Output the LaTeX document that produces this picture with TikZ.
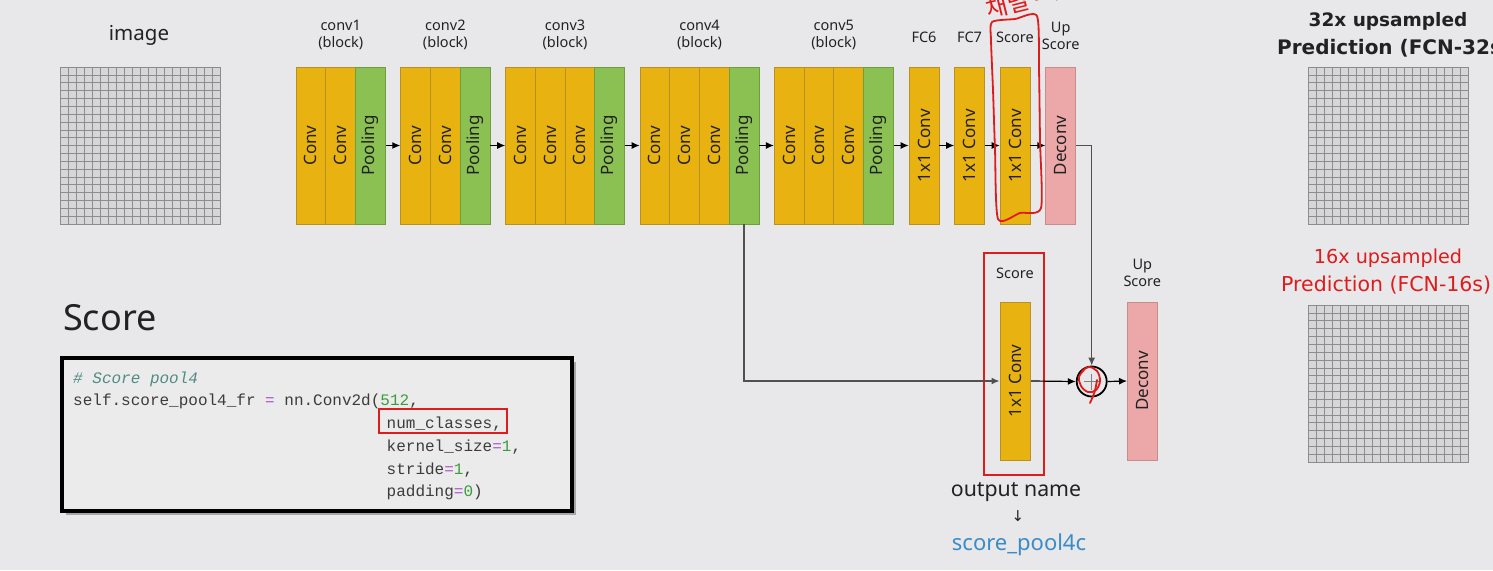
\documentclass[tikz,border=0pt]{standalone}
\usepackage{fontspec}
\setmainfont{Noto Sans}
\setmonofont{Liberation Mono}
\newfontfamily\krfont{Noto Sans CJK KR}
\newfontfamily\djv{DejaVu Sans}
\usetikzlibrary{arrows.meta,calc}
\definecolor{bg}{RGB}{232,231,233}
\definecolor{convfill}{RGB}{232,178,16}
\definecolor{convedge}{RGB}{185,145,35}
\definecolor{poolfill}{RGB}{139,193,83}
\definecolor{pooledge}{RGB}{110,158,62}
\definecolor{decfill}{RGB}{236,168,168}
\definecolor{decedge}{RGB}{200,140,140}
\definecolor{gridfill}{RGB}{214,214,216}
\definecolor{gridline}{RGB}{140,140,142}
\definecolor{annred}{RGB}{222,28,28}
\definecolor{txt}{RGB}{34,34,34}
\definecolor{codebg}{RGB}{236,235,236}
\definecolor{codetxt}{RGB}{60,60,60}
\definecolor{cmt}{RGB}{80,140,130}
\definecolor{eqc}{RGB}{170,85,200}
\definecolor{numc}{RGB}{60,155,60}
\definecolor{bluec}{RGB}{58,140,200}
\definecolor{conn}{RGB}{80,80,80}
\newcommand\fcngrid[3]{%
  \node[gridbox, anchor=north west] (#1) at (#2,#3) {};
  \foreach \i in {1,...,19}{%
    \draw[gridln] ({#2+8*\i},#3) -- ({#2+8*\i},{#3+157});
    \draw[gridln] (#2,{#3+7.85*\i}) -- ({#2+160},{#3+7.85*\i});
  }%
}
\begin{document}
\begin{tikzpicture}[x=1pt,y=-1pt,
  cv/.style={draw=convedge, line width=0.8pt, fill=convfill, minimum width=29.8, minimum height=157, inner sep=0, font=\fontsize{17}{17}\selectfont, text=txt},
  pl/.style={cv, draw=pooledge, fill=poolfill},
  dc/.style={cv, draw=decedge, fill=decfill},
  lbl/.style={font=\fontsize{14.5}{17}\selectfont, align=center, text=txt},
  arr/.style={line width=1.2pt, black, -{Latex[length=8pt,width=7pt]}},
  garr/.style={line width=1.4pt, conn, -{Latex[length=8pt,width=7pt]}},
  gridbox/.style={draw=gridline, fill=gridfill, minimum width=160, minimum height=157, inner sep=0, line width=0.7pt},
  gridln/.style={gridline, line width=0.6pt},
  code/.style={font=\ttfamily\fontsize{16}{18}\selectfont, anchor=base west, inner sep=0, text=codetxt},
  redbox/.style={draw=annred, line width=2pt, inner sep=0},
  hand/.style={annred, line width=1.8pt, line cap=round, line join=round}
]
\useasboundingbox[fill=bg] (0,0) rectangle (1493,570);

% input image
\node[font=\fontsize{20.5}{24}\selectfont, text=txt] (limg) at (139,35) {image};
\fcngrid{img}{60}{67}

% top labels
\node[lbl] (l1) at (340.7,35) {conv1\\(block)};
\node[lbl] (l2) at (445.4,35) {conv2\\(block)};
\node[lbl] (l3) at (565,35) {conv3\\(block)};
\node[lbl] (l4) at (699.5,35) {conv4\\(block)};
\node[lbl] (l5) at (833.8,35) {conv5\\(block)};
\node[lbl] (l6) at (924,37) {FC6};
\node[lbl] (l7) at (969.5,37) {FC7};
\node[lbl] (l8) at (1015,37) {Score};
\node[lbl] (l9) at (1060.7,35.5) {Up\\Score};

% top boxes
\node[cv] (a1) at (310.9,145.5) {\rotatebox{90}{Conv}};
\node[cv] (a2) at (340.7,145.5) {\rotatebox{90}{Conv}};
\node[pl] (p1) at (370.5,145.5) {\rotatebox{90}{Pooling}};
\node[cv] (b1) at (415.6,145.5) {\rotatebox{90}{Conv}};
\node[cv] (b2) at (445.4,145.5) {\rotatebox{90}{Conv}};
\node[pl] (p2) at (475.1,145.5) {\rotatebox{90}{Pooling}};
\node[cv] (c1) at (520.5,145.5) {\rotatebox{90}{Conv}};
\node[cv] (c2) at (550.2,145.5) {\rotatebox{90}{Conv}};
\node[cv] (c3) at (579.8,145.5) {\rotatebox{90}{Conv}};
\node[pl] (p3) at (609.5,145.5) {\rotatebox{90}{Pooling}};
\node[cv] (d1) at (654.9,145.5) {\rotatebox{90}{Conv}};
\node[cv] (d2) at (684.6,145.5) {\rotatebox{90}{Conv}};
\node[cv] (d3) at (714.4,145.5) {\rotatebox{90}{Conv}};
\node[pl] (p4) at (744.1,145.5) {\rotatebox{90}{Pooling}};
\node[cv] (e1) at (789.2,145.5) {\rotatebox{90}{Conv}};
\node[cv] (e2) at (818.9,145.5) {\rotatebox{90}{Conv}};
\node[cv] (e3) at (848.7,145.5) {\rotatebox{90}{Conv}};
\node[pl] (p5) at (878.4,145.5) {\rotatebox{90}{Pooling}};
\node[cv] (fc6) at (924,145.5) {\rotatebox{90}{1x1 Conv}};
\node[cv] (fc7) at (969.5,145.5) {\rotatebox{90}{1x1 Conv}};
\node[cv] (sc) at (1015,145.5) {\rotatebox{90}{1x1 Conv}};
\node[dc] (up) at (1060.7,145.5) {\rotatebox{90}{Deconv}};

\draw[arr] (p1.east) -- (b1.west);
\draw[arr] (p2.east) -- (c1.west);
\draw[arr] (p3.east) -- (d1.west);
\draw[arr] (p4.east) -- (e1.west);
\draw[arr] (p5.east) -- (fc6.west);
\draw[arr] (fc6.east) -- (fc7.west);
\draw[arr] (fc7.east) -- (sc.west);
\draw[arr] (sc.east) -- (up.west);

% hand-drawn annotation around top score
\draw[hand] plot[smooth cycle, tension=0.4] coordinates {(992,22) (1015,19) (1037,16) (1039,70) (1040,140) (1041,208) (1020,213) (998,219) (995,150) (993,90) (991,40)};
\node[annred, font=\krfont\fontsize{24}{24}\selectfont, rotate=14, anchor=south west, inner sep=0] (handtxt) at (989,22) {채널 = num\_classes};

% second branch
\node[redbox, minimum width=60, minimum height=222] (scorebox) at (1014,364) {};
\node[lbl] (l10) at (1015,273) {Score};
\node[cv, minimum width=30.7, minimum height=158] (sc2) at (1015.3,381) {\rotatebox{90}{1x1 Conv}};
\node[lbl] (l11) at (1142.3,273) {Up\\Score};
\node[dc, minimum height=158] (up2) at (1142.3,381) {\rotatebox{90}{Deconv}};
\node[circle, draw=black, line width=1.8pt, minimum size=30, inner sep=0] (plus) at (1091.7,381.5) {};
\draw[gray, line width=0.8pt] ($(plus.center)+(-8,0)$) -- ($(plus.center)+(8,0)$);
\draw[gray, line width=0.8pt] ($(plus.center)+(0,-8)$) -- ($(plus.center)+(0,8)$);

\draw[garr] (p4.south) |- (sc2.west);
\draw[garr] (up.east) -| (plus.north);
\draw[arr] (sc2.east) -- (plus.west);
\draw[arr] (plus.east) -- (up2.west);

% red scribble on plus
\draw[hand] plot[smooth, tension=0.6] coordinates {(1084,370) (1079,377) (1081,386) (1088,392) (1096,390) (1100,381) (1097,371) (1089,367) (1082,371)};
\draw[hand] (1097,380) .. controls (1095,392) .. (1090,403);

% output name
\node[font=\fontsize{21.3}{24}\selectfont, text=txt] (outn) at (1016,492) {output name};
\node[font=\djv\fontsize{15}{18}\selectfont, text=txt] (darr) at (1018,516) {↓};
\node[font=\fontsize{22}{24}\selectfont, text=bluec] (outv) at (1019,545) {score\_pool4c};

% Score heading and code
\node[font=\fontsize{36}{40}\selectfont, text=txt, anchor=west, inner sep=0] (head) at (63,318) {Score};
\fill[black!35] (66,362) rectangle (576,515);
\node[draw=black, line width=3.5pt, fill=codebg, minimum width=510, minimum height=153, inner sep=0] (codebox) at (317,434.5) {};
\node[code, font=\ttfamily\itshape\fontsize{16}{18}\selectfont, text=cmt] (cl1) at (73,383) {\# Score pool4};
\node[code] (cl2) at (73,405.5) {self.score\_pool4\_fr \textcolor{eqc}{=} nn.Conv2d(\textcolor{numc}{512},};
\node[code] (cl3) at (386.5,428.5) {num\_classes,};
\node[code] (cl4) at (386.5,451.5) {kernel\_size\textcolor{eqc}{=}\textcolor{numc}{1},};
\node[code] (cl5) at (386.5,474) {stride\textcolor{eqc}{=}\textcolor{numc}{1},};
\node[code] (cl6) at (386.5,496.5) {padding\textcolor{eqc}{=}\textcolor{numc}{0})};
\node[redbox, minimum width=128, minimum height=24] (ncbox) at (443,421) {};

% right side outputs
\node[font=\djv\bfseries\fontsize{18.5}{22}\selectfont, text=txt] (t32a) at (1388,21) {32x upsampled};
\node[font=\djv\bfseries\fontsize{20}{22}\selectfont, text=txt, anchor=west, inner sep=0] (t32b) at (1277,48) {Prediction (FCN-32s)};
\fcngrid{out32}{1308}{67}
\node[font=\djv\fontsize{19.2}{22}\selectfont, text=annred] (t16a) at (1388,258) {16x upsampled};
\node[font=\djv\fontsize{20.5}{22}\selectfont, text=annred, anchor=west, inner sep=0] (t16b) at (1281,285) {Prediction (FCN-16s)};
\fcngrid{out16}{1308}{305}
\end{tikzpicture}
\end{document}
